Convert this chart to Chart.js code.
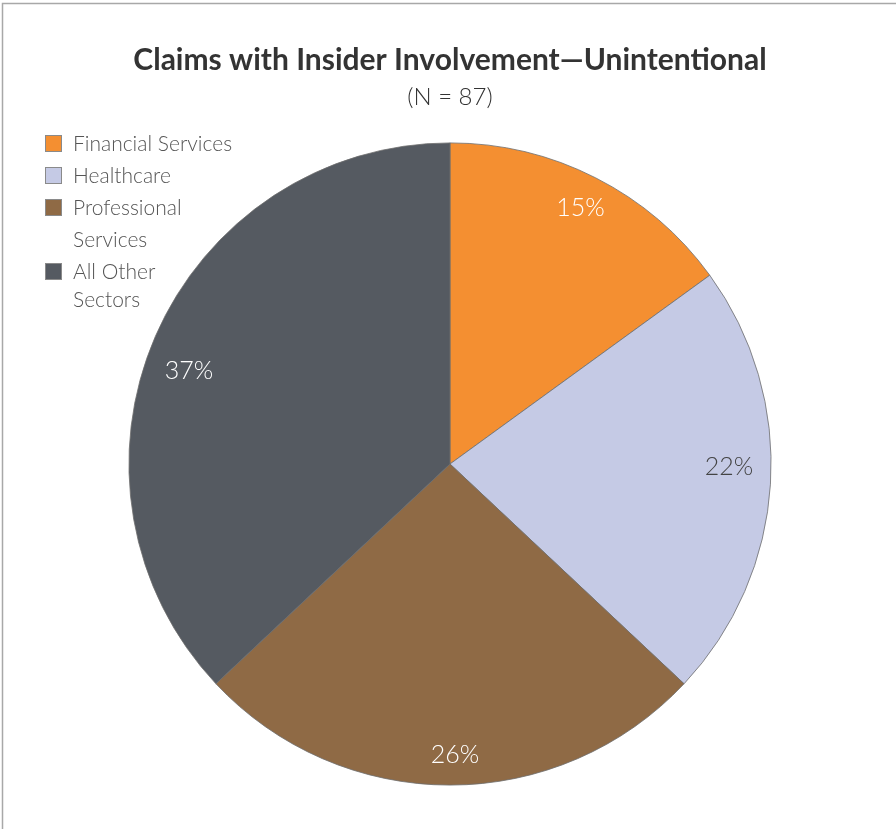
<!DOCTYPE html>
<html>
<head>
<meta charset="utf-8">
<title>Claims with Insider Involvement — Unintentional</title>
<script src="https://cdn.jsdelivr.net/npm/chart.js@4.4.1/dist/chart.umd.min.js"></script>
<style>
  html, body { margin: 0; padding: 0; background: #fff; }
  #wrap { position: relative; width: 896px; height: 829px; }
</style>
</head>
<body>
<div id="wrap"><canvas id="PieChart" width="896" height="829"></canvas></div>
<script>
// sectors and their share of claims (%)
var sectors = ['Financial Services', 'Healthcare', 'Professional Services', 'All Other Sectors'];
var legendLines = [['Financial Services'], ['Healthcare'], ['Professional', 'Services'], ['All Other', 'Sectors']];
var shares = [15, 22, 26, 37];
var sliceColors = ['#F48F31', '#C5CAE5', '#8F6A45', '#555A61'];
var labelColors = ['#ffffff', '#444444', '#ffffff', '#ffffff'];

var chartTitle = 'Claims with Insider Involvement\u2014Unintentional';
var chartSubtitle = '(N = 87)';

var FONT = 'Lato, "Open Sans", sans-serif';

// frame, title and legend
var decorations = {
    id: 'decorations',
    beforeDraw: function(chart) {
        var ctx = chart.ctx;
        ctx.save();
        ctx.fillStyle = '#ffffff';
        ctx.fillRect(0, 0, chart.width, chart.height);
        ctx.strokeStyle = '#a8a8a8';
        ctx.lineWidth = 1.5;
        ctx.beginPath();
        ctx.moveTo(2.5, chart.height);
        ctx.lineTo(2.5, 3.5);
        ctx.lineTo(chart.width, 3.5);
        ctx.stroke();
        ctx.restore();
    },
    afterDraw: function(chart) {
        var ctx = chart.ctx;
        ctx.save();
        ctx.textAlign = 'center';
        ctx.textBaseline = 'middle';
        ctx.fillStyle = '#333333';
        ctx.font = 'bold 30px ' + FONT;
        ctx.fillText(chartTitle, 450, 60);
        ctx.font = '300 24px ' + FONT;
        ctx.fillText(chartSubtitle, 450, 97);

        // legend
        ctx.textAlign = 'left';
        ctx.font = '300 21px ' + FONT;
        var y = 144;
        legendLines.forEach(function(lines, i) {
            ctx.fillStyle = sliceColors[i];
            ctx.fillRect(45.5, y - 8.5, 16, 16);
            ctx.strokeStyle = '#8a8a8a';
            ctx.lineWidth = 1;
            ctx.strokeRect(45.5, y - 8.5, 16, 16);
            ctx.fillStyle = '#555555';
            lines.forEach(function(line, j) {
                ctx.fillText(line, 73, y + j * (lines.length > 1 && i === 3 ? 28 : 32));
            });
            y += lines.length > 1 ? (i === 2 ? 64 : 60) : 32;
        });
        ctx.restore();
    }
};

// percentage labels inside slices: small angle nudge (deg) and radius fraction per slice
var labelNudge = [0, -3, -1, -3.8];
var labelRadius = [0.896, 0.869, 0.907, 0.863];
var sliceLabels = {
    id: 'sliceLabels',
    afterDatasetsDraw: function(chart) {
        var ctx = chart.ctx;
        var meta = chart.getDatasetMeta(0);
        ctx.save();
        ctx.font = '300 25px ' + FONT;
        ctx.textAlign = 'center';
        ctx.textBaseline = 'middle';
        meta.data.forEach(function(arc, i) {
            var mid = (arc.startAngle + arc.endAngle) / 2 + labelNudge[i] * Math.PI / 180;
            var r = arc.outerRadius * labelRadius[i];
            ctx.fillStyle = labelColors[i];
            ctx.fillText(shares[i] + '%', arc.x + Math.cos(mid) * r, arc.y + Math.sin(mid) * r);
        });
        ctx.restore();
    }
};

var pieCtx = document.getElementById('PieChart').getContext('2d');
var myPieChart = new Chart(pieCtx, {
    type: 'pie',
    data: {
        labels: sectors,
        datasets: [{
            data: shares,
            backgroundColor: sliceColors,
            borderColor: '#6e6e6e',
            borderWidth: 0.8
        }]
    },
    options: {
        responsive: false,
        animation: false,
        layout: {
            padding: { left: 128.5, right: 124.5, top: 142.5, bottom: 43.5 }
        },
        plugins: {
            legend: { display: false },
            tooltip: { enabled: false }
        }
    },
    plugins: [decorations, sliceLabels]
});
</script>
</body>
</html>
